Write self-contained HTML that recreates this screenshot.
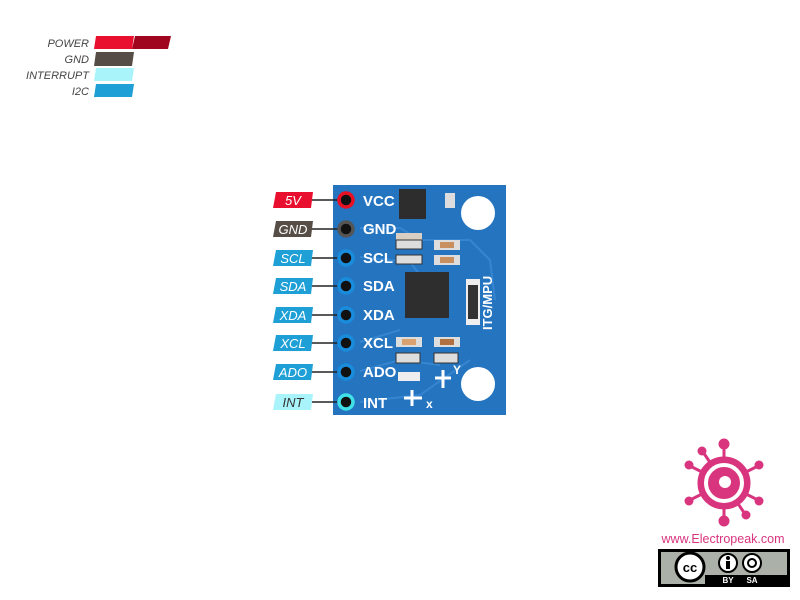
<!DOCTYPE html>
<html><head><meta charset="utf-8"><style>
body{margin:0;background:#fff;width:800px;height:600px;overflow:hidden}
svg{display:block}
</style></head><body>
<svg width="800" height="600" xmlns="http://www.w3.org/2000/svg" font-family="Liberation Sans, sans-serif">
<!-- legend -->
<g font-size="11" font-style="italic" fill="#444" text-anchor="end">
<text x="89" y="47">POWER</text><text x="89" y="63">GND</text><text x="89" y="79">INTERRUPT</text><text x="89" y="95">I2C</text>
</g>
<polygon points="96,36 134,36 132,49 94,49" fill="#e8102e"/>
<polygon points="135,36 171,36 168,49 132,49" fill="#a0061e"/>
<polygon points="96,52 134,52 132,66 94,66" fill="#564d47"/>
<polygon points="96,68 134,68 132,81 94,81" fill="#a8f4fa"/>
<polygon points="96,84 134,84 132,97 94,97" fill="#1e9fd6"/>
<!-- board -->
<rect x="333" y="185" width="173" height="230" fill="#2474c0"/>
<g stroke="#3b8ad4" stroke-width="2" fill="none" opacity="0.8">
<path d="M360 228 L400 228 L420 240 L470 240 L490 260 L495 300"/>
<path d="M360 257 L410 262 L420 275"/><path d="M360 342 L400 330"/><path d="M360 371 L400 360 L440 365"/>
<path d="M360 402 L420 395 L470 360"/>
</g>
<circle cx="478" cy="213" r="17" fill="#fff"/>
<circle cx="478" cy="384" r="17" fill="#fff"/>
<!-- components -->
<rect x="399" y="189" width="27" height="30" fill="#2d2d2d"/>
<rect x="396" y="233" width="26" height="10" fill="#d8cfc2"/>
<rect x="396" y="240" width="26" height="9" fill="#ddd" stroke="#333"/>
<rect x="396" y="255" width="26" height="9" fill="#ddd" stroke="#333"/>
<rect x="434" y="240" width="26" height="10" fill="#ddd"/><rect x="440" y="242" width="14" height="6" fill="#c89060"/>
<rect x="434" y="255" width="26" height="10" fill="#ddd"/><rect x="440" y="257" width="14" height="6" fill="#c89060"/>
<rect x="445" y="193" width="10" height="15" fill="#ddd"/>
<rect x="405" y="272" width="44" height="46" fill="#2e2e2e"/>
<rect x="466" y="279" width="14" height="46" fill="#eee"/><rect x="468" y="285" width="10" height="34" fill="#333"/>
<rect x="396" y="337" width="26" height="10" fill="#ddd"/><rect x="402" y="339" width="14" height="6" fill="#d9a070"/>
<rect x="434" y="337" width="26" height="10" fill="#ddd"/><rect x="440" y="339" width="14" height="6" fill="#b07040"/>
<rect x="396" y="353" width="24" height="10" fill="#ddd" stroke="#333"/>
<rect x="434" y="353" width="24" height="10" fill="#ddd" stroke="#333"/>
<rect x="398" y="372" width="22" height="9" fill="#eee"/>
<text x="492" y="330" font-size="13" font-weight="bold" fill="#fff" transform="rotate(-90 492 330)">ITG/MPU</text>
<g font-size="15" font-weight="bold" fill="#fff">
<text x="363" y="206">VCC</text><text x="363" y="234">GND</text><text x="363" y="263">SCL</text><text x="363" y="291">SDA</text>
<text x="363" y="320">XDA</text><text x="363" y="348">XCL</text><text x="363" y="377">ADO</text><text x="363" y="408">INT</text>
<text x="426" y="408" font-size="12">x</text><text x="453" y="374" font-size="12">Y</text>
</g>
<path d="M443 370 v18 M435 378 h16 M404 398 h18 M412 390 v16" stroke="#fff" stroke-width="3"/>
<!-- pins and labels -->
<g stroke="#222" stroke-width="1.5">
<line x1="310" y1="200" x2="340" y2="200"/><line x1="310" y1="229" x2="340" y2="229"/><line x1="310" y1="258" x2="340" y2="258"/><line x1="310" y1="286" x2="340" y2="286"/>
<line x1="310" y1="315" x2="340" y2="315"/><line x1="310" y1="343" x2="340" y2="343"/><line x1="310" y1="372" x2="340" y2="372"/><line x1="310" y1="402" x2="340" y2="402"/>
</g>
<g stroke-width="3.5">
<circle cx="346" cy="200" r="7" fill="#111" stroke="#e81025"/>
<circle cx="346" cy="229" r="7" fill="#111" stroke="#555"/>
<circle cx="346" cy="258" r="7" fill="#111" stroke="#1a8cdc"/>
<circle cx="346" cy="286" r="7" fill="#111" stroke="#1a8cdc"/>
<circle cx="346" cy="315" r="7" fill="#111" stroke="#1a8cdc"/>
<circle cx="346" cy="343" r="7" fill="#111" stroke="#1a8cdc"/>
<circle cx="346" cy="372" r="7" fill="#111" stroke="#1a8cdc"/>
<circle cx="346" cy="402" r="7" fill="#111" stroke="#40e0e8"/>
</g>
<g>
<polygon points="276,192 313,192 311,208 273,208" fill="#e8102e"/>
<polygon points="276,221 313,221 311,237 273,237" fill="#564d47"/>
<polygon points="276,250 313,250 311,266 273,266" fill="#1e9fd6"/>
<polygon points="276,278 313,278 311,294 273,294" fill="#1e9fd6"/>
<polygon points="276,307 313,307 311,323 273,323" fill="#1e9fd6"/>
<polygon points="276,335 313,335 311,351 273,351" fill="#1e9fd6"/>
<polygon points="276,364 313,364 311,380 273,380" fill="#1e9fd6"/>
<polygon points="276,394 313,394 311,410 273,410" fill="#a8f4fa"/>
</g>
<g font-size="13" font-style="italic" text-anchor="middle" fill="#fff">
<text x="293" y="205">5V</text><text x="293" y="234">GND</text><text x="293" y="263">SCL</text><text x="293" y="291">SDA</text>
<text x="293" y="320">XDA</text><text x="293" y="348">XCL</text><text x="293" y="377">ADO</text><text x="293" y="407" fill="#333">INT</text>
</g>
<!-- logo -->
<g fill="#d9357f" stroke="#d9357f">
<g stroke-width="3">
<line x1="724" y1="483" x2="724" y2="446"/><line x1="724" y1="483" x2="724" y2="520"/>
<line x1="724" y1="483" x2="690" y2="466"/><line x1="724" y1="483" x2="758" y2="466"/>
<line x1="724" y1="483" x2="690" y2="500"/><line x1="724" y1="483" x2="758" y2="500"/>
<line x1="724" y1="483" x2="703" y2="452"/><line x1="724" y1="483" x2="745" y2="514"/>
</g>
<circle cx="724" cy="444" r="5"/><circle cx="724" cy="521" r="5"/>
<circle cx="689" cy="465" r="4"/><circle cx="759" cy="465" r="4"/><circle cx="689" cy="501" r="4"/><circle cx="759" cy="501" r="4"/>
<circle cx="702" cy="451" r="4"/><circle cx="746" cy="515" r="4"/>
<circle cx="724" cy="483" r="26"/>
</g>
<circle cx="724" cy="483" r="18" fill="none" stroke="#fff" stroke-width="4"/>
<circle cx="725" cy="482" r="6" fill="#fff"/>
<text x="723" y="543" font-size="12.5" fill="#d9357f" text-anchor="middle">www.Electropeak.com</text>
<rect x="658" y="549" width="132" height="38" fill="#000"/>
<rect x="661" y="552" width="126" height="32" fill="#abb0a8"/>
<rect x="705" y="575" width="82" height="9" fill="#000"/>
<circle cx="690" cy="567" r="14" fill="#fff" stroke="#000" stroke-width="3"/>
<text x="690" y="572" font-size="13" font-weight="bold" text-anchor="middle">cc</text>
<circle cx="728" cy="563" r="9" fill="#fff" stroke="#000" stroke-width="2"/>
<circle cx="752" cy="563" r="9" fill="#fff" stroke="#000" stroke-width="2"/>
<rect x="726" y="561" width="4" height="8"/><circle cx="728" cy="558" r="2"/>
<circle cx="752" cy="563" r="4" fill="none" stroke="#000" stroke-width="2"/>
<text x="728" y="583" font-size="8" fill="#fff" text-anchor="middle" font-weight="bold">BY</text>
<text x="752" y="583" font-size="8" fill="#fff" text-anchor="middle" font-weight="bold">SA</text>
</svg>
</body></html>
